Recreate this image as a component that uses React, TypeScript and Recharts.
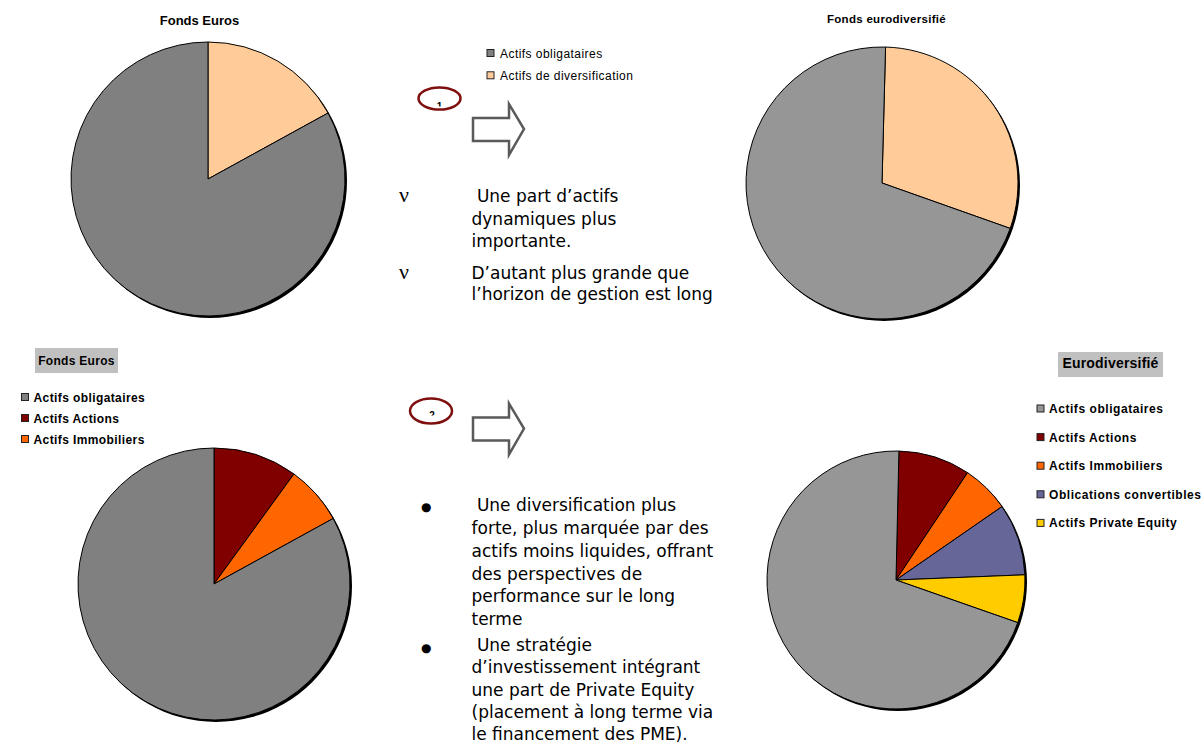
import React from 'react';
import { PieChart, Pie, Cell } from 'recharts';

// ---------- data ----------
const simpleCategories = ['Actifs obligataires', 'Actifs de diversification'];
const fondsEurosSimpleValues = [83, 17];
const eurodiversifieSimpleValues = [70, 30];

const detailCategories = [
  'Actifs obligataires',
  'Actifs Actions',
  'Actifs Immobiliers',
  'Oblications convertibles',
  'Actifs Private Equity',
];
const fondsEurosDetailValues = [83, 10, 7];
const eurodiversifieDetailValues = [70, 9, 6, 9, 6];

const titles = ['Fonds Euros', 'Fonds eurodiversifié', 'Fonds Euros', 'Eurodiversifié'];

// ---------- styles ----------
const simpleColorsA = ['#808080', '#FFCC99'];
const simpleColorsB = ['#969696', '#FFCC99'];
const detailColorsA = ['#808080', '#800000', '#FF6600', '#666699', '#FFCC00'];
const detailColorsB = ['#969696', '#800000', '#FF6600', '#666699', '#FFCC00'];

// slices drawn clockwise from 12 o'clock, first category last
const build = (cats: string[], vals: number[]) => {
  const rows = vals.map((v, i) => ({ name: cats[i], value: v, idx: i }));
  return [...rows.slice(1), rows[0]];
};

const pies = [
  { data: build(simpleCategories, fondsEurosSimpleValues), colors: simpleColorsA, cx: 208, cy: 179, r: 137, start: 90 },
  { data: build(simpleCategories, eurodiversifieSimpleValues), colors: simpleColorsB, cx: 882, cy: 183, r: 136, start: 88.5 },
  { data: build(detailCategories, fondsEurosDetailValues), colors: detailColorsA, cx: 214, cy: 584, r: 136, start: 90 },
  { data: build(detailCategories, eurodiversifieDetailValues), colors: detailColorsB, cx: 896, cy: 580, r: 129, start: 88.7 },
];

const shadow = [{ value: 1 }];

const W = 1203;
const H = 744;

const sans = '"Liberation Sans", Arial, sans-serif';
const body = '"DejaVu Sans", Verdana, sans-serif';

const arrowPath = (y: number) =>
  `M473,${y - 11} L509,${y - 11} L509,${y - 25} L524,${y} L509,${y + 26} L509,${y + 12} L473,${y + 12} Z`;

export default function App() {
  const block1 = [
    [' Une part d’actifs', 202],
    ['dynamiques plus', 224.5],
    ['importante.', 247],
    ['D’autant plus grande que', 278.5],
    ['l’horizon de gestion est long', 300],
  ] as [string, number][];
  const block2 = [
    [' Une diversification plus', 511],
    ['forte, plus marquée par des', 534],
    ['actifs moins liquides, offrant', 556.7],
    ['des perspectives de', 579.5],
    ['performance sur le long', 602.2],
    ['terme', 624.5],
    [' Une stratégie', 651],
    ['d’investissement intégrant', 673.3],
    ['une part de Private Equity', 695.8],
    ['(placement à long terme via', 718.3],
    ['le financement des PME).', 740],
  ] as [string, number][];

  return (
    <div style={{ position: 'absolute', left: 0, top: 0, width: W, height: H, background: '#fff', overflow: 'hidden' }}>
      <div style={{ position: 'absolute', left: 0, top: 0 }}>
        <PieChart width={W} height={H} margin={{ top: 0, right: 0, bottom: 0, left: 0 }}>
          {pies.map((p, k) => (
            <Pie
              key={'s' + k}
              data={shadow}
              dataKey="value"
              cx={p.cx + 2}
              cy={p.cy + 2}
              outerRadius={p.r}
              innerRadius={0}
              startAngle={90}
              endAngle={-270}
              fill="#000"
              stroke="none"
              isAnimationActive={false}
              label={false}
              labelLine={false}
            />
          ))}
          {pies.map((p, k) => (
            <Pie
              key={'p' + k}
              data={p.data}
              dataKey="value"
              nameKey="name"
              cx={p.cx}
              cy={p.cy}
              outerRadius={p.r}
              innerRadius={0}
              startAngle={p.start}
              endAngle={p.start - 360}
              stroke="#000"
              strokeWidth={1}
              isAnimationActive={false}
              label={false}
              labelLine={false}
            >
              {p.data.map((d) => (
                <Cell key={d.name} fill={p.colors[d.idx]} stroke="#000" strokeWidth={1} />
              ))}
            </Pie>
          ))}
        </PieChart>
      </div>
      <svg width={W} height={H} style={{ position: 'absolute', left: 0, top: 0, pointerEvents: 'none' }}>
        <defs>
          <clipPath id="c1">
            <rect x={430} y={95} width={20} height={11.5} />
          </clipPath>
          <clipPath id="c2">
            <rect x={420} y={402} width={20} height={13.5} />
          </clipPath>
        </defs>

        {/* titles */}
        <text x={199.5} y={25} textAnchor="middle" fontFamily={sans} fontWeight="bold" fontSize={13}>{titles[0]}</text>
        <text x={886.5} y={22.5} textAnchor="middle" fontFamily={sans} fontWeight="bold" fontSize={11.5} letterSpacing={0.3}>{titles[1]}</text>
        <rect x={35} y={348} width={83} height={25} fill="#C0C0C0" />
        <text x={76.5} y={364.5} textAnchor="middle" fontFamily={sans} fontWeight="bold" fontSize={12} letterSpacing={0.3}>{titles[2]}</text>
        <rect x={1058} y={352} width={105} height={25} fill="#C0C0C0" />
        <text x={1110.5} y={367.5} textAnchor="middle" fontFamily={sans} fontWeight="bold" fontSize={14} letterSpacing={0.2}>{titles[3]}</text>

        {/* top legend */}
        {simpleCategories.map((c, i) => (
          <g key={c}>
            <rect x={487} y={49.5 + i * 22.3} width={7} height={7} fill={simpleColorsA[i]} stroke="#222" strokeWidth={1} />
            <text x={500} y={57.5 + i * 22.3} fontFamily={sans} fontSize={12} letterSpacing={0.45}>{c}</text>
          </g>
        ))}

        {/* bottom-left legend */}
        {detailCategories.slice(0, fondsEurosDetailValues.length).map((c, i) => (
          <g key={c}>
            <rect x={21.5} y={393.5 + i * 21} width={7} height={7} fill={detailColorsA[i]} stroke="#222" strokeWidth={1} />
            <text x={33.5} y={401.5 + i * 21} fontFamily={sans} fontWeight="bold" fontSize={12} letterSpacing={0.4}>{c}</text>
          </g>
        ))}

        {/* bottom-right legend */}
        {detailCategories.map((c, i) => (
          <g key={c}>
            <rect x={1037} y={405 + i * 28.6} width={7} height={7} fill={detailColorsB[i]} stroke="#222" strokeWidth={1} />
            <text x={1049} y={413 + i * 28.6} fontFamily={sans} fontWeight="bold" fontSize={12} letterSpacing={0.55}>{c}</text>
          </g>
        ))}

        {/* step markers */}
        <ellipse cx={439.5} cy={98.5} rx={21} ry={11} fill="none" stroke="#7F0F0F" strokeWidth={2.5} />
        <text x={439.5} y={110} textAnchor="middle" fontFamily={sans} fontWeight="bold" fontSize={10} clipPath="url(#c1)">1</text>
        <path d={arrowPath(129)} fill="#fff" stroke="#5a5a5a" strokeWidth={2.5} strokeLinejoin="miter" />

        <ellipse cx={431} cy={411} rx={21} ry={12.5} fill="none" stroke="#7F0F0F" strokeWidth={2.5} />
        <text x={432} y={419} textAnchor="middle" fontFamily={sans} fontWeight="bold" fontSize={10} clipPath="url(#c2)">2</text>
        <path d={arrowPath(428.5)} fill="#fff" stroke="#5a5a5a" strokeWidth={2.5} strokeLinejoin="miter" />

        {/* block 1 */}
        <text x={399} y={202} fontFamily='"Liberation Serif", serif' fontSize={22}>ν</text>
        <text x={399} y={278.5} fontFamily='"Liberation Serif", serif' fontSize={22}>ν</text>
        {block1.map(([t, y]) => (
          <text key={t} x={471.5} y={y} fontFamily={body} fontSize={17} style={{ whiteSpace: 'pre' }}>{t}</text>
        ))}

        {/* block 2 */}
        <text x={421} y={511} fontFamily={body} fontSize={12}>●</text>
        <text x={421} y={652} fontFamily={body} fontSize={12}>●</text>
        {block2.map(([t, y]) => (
          <text key={t} x={471.5} y={y} fontFamily={body} fontSize={17} style={{ whiteSpace: 'pre' }}>{t}</text>
        ))}
      </svg>
    </div>
  );
}
